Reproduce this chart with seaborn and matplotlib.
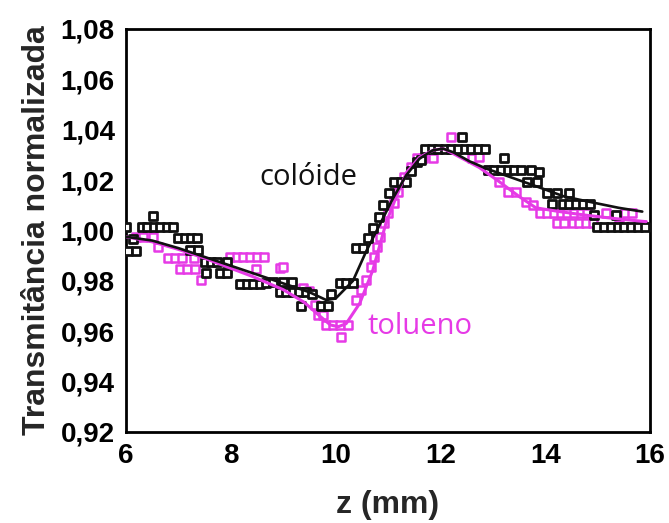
import matplotlib
matplotlib.use("Agg")
import matplotlib.pyplot as plt
from matplotlib.ticker import MultipleLocator, FuncFormatter
import seaborn as sns
import pandas as pd

# Z-scan: measured points (z in mm, normalised transmittance)
colloid_z = [6.01, 6.04, 6.13, 6.20, 6.30, 6.41, 6.52, 6.54, 6.65, 6.78, 6.90,
             7.00, 7.12, 7.23, 7.25, 7.36, 7.38, 7.50, 7.52, 7.63, 7.73, 7.79,
             7.92, 7.93, 8.17, 8.30, 8.42, 8.55, 8.68, 8.80, 8.93, 9.00, 9.06,
             9.16, 9.19, 9.31, 9.33, 9.44, 9.55, 9.73, 9.85, 9.92, 10.08, 10.20,
             10.33, 10.39, 10.52, 10.62, 10.71, 10.82, 10.90, 11.02, 11.12, 11.25,
             11.35, 11.44, 11.55, 11.63, 11.70, 11.83, 11.96, 12.08, 12.21, 12.34,
             12.41, 12.47, 12.59, 12.72, 12.85, 12.90, 13.02, 13.15, 13.22, 13.28,
             13.40, 13.53, 13.66, 13.72, 13.85, 13.88, 14.04, 14.13, 14.23, 14.33,
             14.45, 14.46, 14.59, 14.72, 14.85, 14.93, 14.99, 15.12, 15.25, 15.34,
             15.38, 15.51, 15.64, 15.77, 15.90]
colloid_t = [1.0015, 0.9920, 0.9965, 0.9920, 1.0015, 1.0015, 1.0059, 1.0015, 1.0015,
             1.0015, 1.0015, 0.9969, 0.9969, 0.9923, 0.9969, 0.9969, 0.9923, 0.9876,
             0.9830, 0.9876, 0.9876, 0.9830, 0.9830, 0.9876, 0.9788, 0.9788, 0.9788,
             0.9788, 0.9792, 0.9797, 0.9757, 0.9797, 0.9757, 0.9797, 0.9757, 0.9757,
             0.9700, 0.9757, 0.9748, 0.9700, 0.9700, 0.9748, 0.9790, 0.9790, 0.9790,
             0.9929, 0.9929, 0.9969, 1.0009, 1.0055, 1.0101, 1.0148, 1.0194, 1.0194,
             1.0194, 1.0237, 1.0273, 1.0280, 1.0324, 1.0324, 1.0324, 1.0324, 1.0324,
             1.0324, 1.0370, 1.0324, 1.0324, 1.0324, 1.0324, 1.0240, 1.0240, 1.0240,
             1.0287, 1.0240, 1.0240, 1.0240, 1.0194, 1.0240, 1.0194, 1.0234, 1.0148,
             1.0104, 1.0148, 1.0104, 1.0148, 1.0104, 1.0104, 1.0104, 1.0104, 1.0062,
             1.0013, 1.0013, 1.0013, 1.0062, 1.0013, 1.0013, 1.0013, 1.0013, 1.0013]

toluene_z = [6.20, 6.33, 6.52, 6.62, 6.81, 6.93, 7.03, 7.06, 7.16, 7.30, 7.31,
             7.44, 7.98, 8.11, 8.24, 8.37, 8.49, 8.50, 8.63, 8.93, 9.00, 9.38,
             9.50, 9.60, 9.66, 9.76, 9.82, 9.95, 10.08, 10.11, 10.24, 10.39, 10.49,
             10.58, 10.68, 10.74, 10.78, 10.84, 10.93, 11.00, 11.12, 11.19, 11.31,
             11.44, 11.56, 11.66, 11.85, 12.20, 12.60, 12.74, 12.90, 13.12, 13.28,
             13.44, 13.63, 13.77, 13.90, 14.03, 14.16, 14.22, 14.29, 14.35, 14.42,
             14.52, 14.55, 14.65, 14.68, 14.78, 14.80, 14.91, 15.15, 15.41, 15.53,
             15.66, 15.85]
toluene_t = [0.9973, 0.9973, 0.9973, 0.9935, 0.9890, 0.9890, 0.9846, 0.9890, 0.9846,
             0.9890, 0.9846, 0.9803, 0.9893, 0.9893, 0.9893, 0.9893, 0.9846, 0.9893,
             0.9893, 0.9850, 0.9856, 0.9770, 0.9760, 0.9704, 0.9664, 0.9664, 0.9625,
             0.9625, 0.9625, 0.9578, 0.9625, 0.9724, 0.9764, 0.9803, 0.9856, 0.9896,
             0.9936, 0.9975, 1.0029, 1.0068, 1.0108, 1.0154, 1.0214, 1.0253, 1.0287,
             1.0287, 1.0287, 1.0372, 1.0287, 1.0290, 1.0240, 1.0194, 1.0154, 1.0154,
             1.0114, 1.0101, 1.0068, 1.0068, 1.0068, 1.0029, 1.0068, 1.0029, 1.0068,
             1.0029, 1.0068, 1.0029, 1.0068, 1.0029, 1.0068, 1.0029, 1.0068, 1.0022,
             1.0068, 1.0068, 1.0022]

# Fitted curves
colloid_fit_z = [6.0, 6.5, 7.0, 7.5, 8.0, 8.5, 9.0, 9.5, 9.82, 10.0, 10.33, 10.58,
                 10.87, 11.1, 11.35, 11.6, 11.85, 12.05, 12.25, 12.55, 12.87, 13.4,
                 13.9, 14.36, 14.93, 15.4, 15.85]
colloid_fit_t = [0.9975, 0.9960, 0.9930, 0.9895, 0.9860, 0.9825, 0.9790, 0.9755,
                 0.9724, 0.9730, 0.9800, 0.9916, 1.0035, 1.0130, 1.0220, 1.0285,
                 1.0318, 1.0325, 1.0310, 1.0275, 1.0246, 1.0207, 1.0170, 1.0135,
                 1.0110, 1.0090, 1.0075]
toluene_fit_z = [6.0, 6.5, 7.0, 7.5, 8.0, 8.42, 9.0, 9.4, 9.7, 9.9, 10.05, 10.2,
                 10.46, 10.71, 10.96, 11.15, 11.35, 11.6, 11.85, 12.05, 12.2, 12.74,
                 13.12, 13.5, 13.82, 14.27, 14.8, 15.3, 15.92]
toluene_fit_t = [0.9975, 0.9955, 0.9925, 0.9890, 0.9850, 0.9817, 0.9765, 0.9715,
                 0.9660, 0.9625, 0.9618, 0.9630, 0.9711, 0.9843, 1.0029, 1.0130,
                 1.0230, 1.0290, 1.0318, 1.0325, 1.0310, 1.0250, 1.0194, 1.0135,
                 1.0090, 1.0075, 1.0060, 1.0048, 1.0035]

x_ticks = [6, 8, 10, 12, 14, 16]
y_ticks = [0.92, 0.94, 0.96, 0.98, 1.00, 1.02, 1.04, 1.06, 1.08]

BLACK = "#111111"
MAGENTA = "#e63ae6"

sns.set_style("white")
plt.rcParams["font.family"] = ["Liberation Sans", "DejaVu Sans"]

fig = plt.figure(figsize=(6.69, 5.23), dpi=100)
ax = fig.add_axes([0.1883, 0.174, 0.7835, 0.7706])

tol = pd.DataFrame({"z": toluene_z, "T": toluene_t})
col = pd.DataFrame({"z": colloid_z, "T": colloid_t})
tol_fit = pd.DataFrame({"z": toluene_fit_z, "T": toluene_fit_t})
col_fit = pd.DataFrame({"z": colloid_fit_z, "T": colloid_fit_t})

sns.scatterplot(data=tol, x="z", y="T", marker="s", s=34, facecolors="white",
                edgecolors=MAGENTA, linewidths=1.8, ax=ax, zorder=2)
sns.scatterplot(data=col, x="z", y="T", marker="s", s=34, facecolors="white",
                edgecolors=BLACK, linewidths=2.0, ax=ax, zorder=3)
sns.lineplot(data=tol_fit, x="z", y="T", color=MAGENTA, lw=2.2, sort=False,
             estimator=None, ax=ax, zorder=4)
sns.lineplot(data=col_fit, x="z", y="T", color=BLACK, lw=1.9, sort=False,
             estimator=None, ax=ax, zorder=5)

ax.set_xlim(6, 16)
ax.set_ylim(0.92, 1.08)
ax.set_xticks(x_ticks)
ax.set_yticks(y_ticks)
ax.xaxis.set_minor_locator(MultipleLocator(1))
ax.yaxis.set_minor_locator(MultipleLocator(0.01))
ax.yaxis.set_major_formatter(FuncFormatter(lambda v, p: f"{v:.2f}".replace(".", ",")))

for side in ax.spines.values():
    side.set_linewidth(2.0)
    side.set_color("black")
ax.tick_params(which="both", direction="in", top=False, right=False,
               width=1.8, colors="black")
ax.tick_params(which="major", length=5, labelsize=20, pad=8)
ax.tick_params(which="minor", length=3)
for lab in ax.get_xticklabels() + ax.get_yticklabels():
    lab.set_fontweight("bold")

ax.set_xlabel("z (mm)", fontsize=23, fontweight="bold", labelpad=15)
ax.set_ylabel("Transmitância normalizada", fontsize=23, fontweight="bold", labelpad=6)

ax.text(8.54, 1.0212, "colóide", color=BLACK, fontsize=21,
        family=["Open Sans", "DejaVu Sans"], ha="left", va="center", zorder=6)
ax.text(10.61, 0.9617, "tolueno", color=MAGENTA, fontsize=21,
        family=["Open Sans", "DejaVu Sans"], ha="left", va="center", zorder=6)

fig.savefig("out.png", dpi=100, facecolor="white")
